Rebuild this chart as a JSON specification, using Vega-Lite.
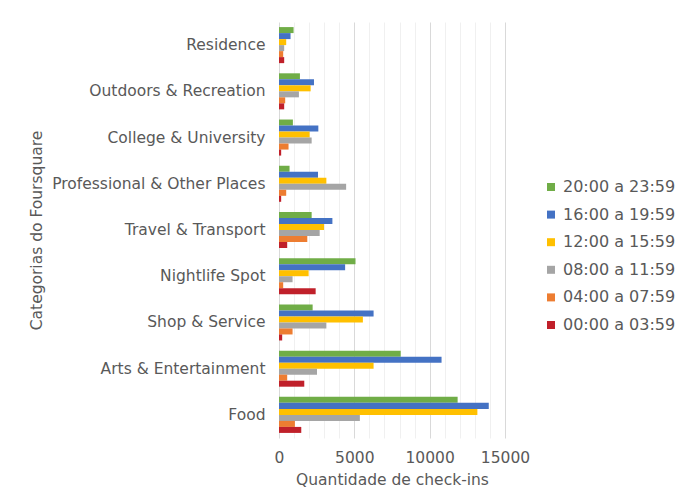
{
  "$schema": "https://vega.github.io/schema/vega-lite/v6.json",
  "autosize": {"type": "none"},
  "padding": {"left": 279, "top": 22, "right": 173, "bottom": 62},
  "width": 226,
  "height": 416,
  "background": "white",
  "config": {
    "font": "DejaVu Sans",
    "view": {"stroke": null},
    "axis": {"labelColor": "#595959", "titleColor": "#595959", "labelFontSize": 15.5, "titleFontSize": 15.5, "titleFontWeight": "normal", "labelLimit": 400}
  },
  "data": {"values": [
    {"cat": "Residence", "period": "20:00 a 23:59", "v": 967},
    {"cat": "Residence", "period": "16:00 a 19:59", "v": 767},
    {"cat": "Residence", "period": "12:00 a 15:59", "v": 478},
    {"cat": "Residence", "period": "08:00 a 11:59", "v": 344},
    {"cat": "Residence", "period": "04:00 a 07:59", "v": 278},
    {"cat": "Residence", "period": "00:00 a 03:59", "v": 344},
    {"cat": "Outdoors & Recreation", "period": "20:00 a 23:59", "v": 1389},
    {"cat": "Outdoors & Recreation", "period": "16:00 a 19:59", "v": 2322},
    {"cat": "Outdoors & Recreation", "period": "12:00 a 15:59", "v": 2100},
    {"cat": "Outdoors & Recreation", "period": "08:00 a 11:59", "v": 1322},
    {"cat": "Outdoors & Recreation", "period": "04:00 a 07:59", "v": 411},
    {"cat": "Outdoors & Recreation", "period": "00:00 a 03:59", "v": 344},
    {"cat": "College & University", "period": "20:00 a 23:59", "v": 922},
    {"cat": "College & University", "period": "16:00 a 19:59", "v": 2611},
    {"cat": "College & University", "period": "12:00 a 15:59", "v": 2033},
    {"cat": "College & University", "period": "08:00 a 11:59", "v": 2167},
    {"cat": "College & University", "period": "04:00 a 07:59", "v": 633},
    {"cat": "College & University", "period": "00:00 a 03:59", "v": 144},
    {"cat": "Professional & Other Places", "period": "20:00 a 23:59", "v": 700},
    {"cat": "Professional & Other Places", "period": "16:00 a 19:59", "v": 2589},
    {"cat": "Professional & Other Places", "period": "12:00 a 15:59", "v": 3144},
    {"cat": "Professional & Other Places", "period": "08:00 a 11:59", "v": 4456},
    {"cat": "Professional & Other Places", "period": "04:00 a 07:59", "v": 478},
    {"cat": "Professional & Other Places", "period": "00:00 a 03:59", "v": 144},
    {"cat": "Travel & Transport", "period": "20:00 a 23:59", "v": 2167},
    {"cat": "Travel & Transport", "period": "16:00 a 19:59", "v": 3544},
    {"cat": "Travel & Transport", "period": "12:00 a 15:59", "v": 2989},
    {"cat": "Travel & Transport", "period": "08:00 a 11:59", "v": 2700},
    {"cat": "Travel & Transport", "period": "04:00 a 07:59", "v": 1878},
    {"cat": "Travel & Transport", "period": "00:00 a 03:59", "v": 544},
    {"cat": "Nightlife Spot", "period": "20:00 a 23:59", "v": 5078},
    {"cat": "Nightlife Spot", "period": "16:00 a 19:59", "v": 4389},
    {"cat": "Nightlife Spot", "period": "12:00 a 15:59", "v": 1967},
    {"cat": "Nightlife Spot", "period": "08:00 a 11:59", "v": 900},
    {"cat": "Nightlife Spot", "period": "04:00 a 07:59", "v": 278},
    {"cat": "Nightlife Spot", "period": "00:00 a 03:59", "v": 2433},
    {"cat": "Shop & Service", "period": "20:00 a 23:59", "v": 2233},
    {"cat": "Shop & Service", "period": "16:00 a 19:59", "v": 6278},
    {"cat": "Shop & Service", "period": "12:00 a 15:59", "v": 5567},
    {"cat": "Shop & Service", "period": "08:00 a 11:59", "v": 3144},
    {"cat": "Shop & Service", "period": "04:00 a 07:59", "v": 900},
    {"cat": "Shop & Service", "period": "00:00 a 03:59", "v": 211},
    {"cat": "Arts & Entertainment", "period": "20:00 a 23:59", "v": 8078},
    {"cat": "Arts & Entertainment", "period": "16:00 a 19:59", "v": 10789},
    {"cat": "Arts & Entertainment", "period": "12:00 a 15:59", "v": 6278},
    {"cat": "Arts & Entertainment", "period": "08:00 a 11:59", "v": 2522},
    {"cat": "Arts & Entertainment", "period": "04:00 a 07:59", "v": 544},
    {"cat": "Arts & Entertainment", "period": "00:00 a 03:59", "v": 1678},
    {"cat": "Food", "period": "20:00 a 23:59", "v": 11856},
    {"cat": "Food", "period": "16:00 a 19:59", "v": 13922},
    {"cat": "Food", "period": "12:00 a 15:59", "v": 13167},
    {"cat": "Food", "period": "08:00 a 11:59", "v": 5367},
    {"cat": "Food", "period": "04:00 a 07:59", "v": 1056},
    {"cat": "Food", "period": "00:00 a 03:59", "v": 1478}
  ]},
  "encoding": {
    "y": {
      "field": "cat", "type": "nominal",
      "sort": ["Residence", "Outdoors & Recreation", "College & University", "Professional & Other Places", "Travel & Transport", "Nightlife Spot", "Shop & Service", "Arts & Entertainment", "Food"],
      "scale": {"paddingInner": 0.22, "paddingOuter": 0.11},
      "axis": {"title": "Categorias do Foursquare", "ticks": false, "domain": false, "labelPadding": 14, "titlePadding": 35, "grid": false}
    }
  },
  "layer": [
    {
      "mark": {"type": "bar", "orient": "horizontal"},
      "encoding": {
        "x": {
          "field": "v", "type": "quantitative",
          "scale": {"domain": [0, 15000], "nice": false},
          "axis": {"title": "Quantidade de check-ins", "values": [0, 5000, 10000, 15000], "format": "d", "labelFlush": false, "grid": true, "gridColor": "#d9d9d9", "gridWidth": 1, "domain": false, "ticks": false, "labelPadding": 12, "titlePadding": 7}
        },
        "yOffset": {
          "field": "period", "type": "nominal",
          "sort": ["20:00 a 23:59", "16:00 a 19:59", "12:00 a 15:59", "08:00 a 11:59", "04:00 a 07:59", "00:00 a 03:59"],
          "scale": {"paddingInner": 0, "paddingOuter": 0}
        },
        "color": {
          "field": "period", "type": "nominal",
          "scale": {
            "domain": ["20:00 a 23:59", "16:00 a 19:59", "12:00 a 15:59", "08:00 a 11:59", "04:00 a 07:59", "00:00 a 03:59"],
            "range": ["#70AD47", "#4472C4", "#FFC000", "#A5A5A5", "#ED7D31", "#C0202A"]
          },
          "legend": {
            "title": null, "orient": "none", "legendX": 264, "legendY": 157,
            "symbolType": "square", "symbolSize": 64, "symbolStrokeWidth": 0,
            "labelFontSize": 16, "labelColor": "#595959", "rowPadding": 11.6, "labelOffset": 4
          }
        }
      }
    },
    {
      "mark": {"type": "rule", "opacity": 0},
      "encoding": {
        "x": {
          "field": "v", "type": "quantitative",
          "axis": {"orient": "top", "values": [1000, 2000, 3000, 4000, 6000, 7000, 8000, 9000, 11000, 12000, 13000, 14000], "grid": true, "gridColor": "#f0f0f0", "labels": false, "ticks": false, "domain": false, "title": null}
        }
      }
    }
  ],
  "resolve": {"axis": {"x": "independent"}}
}
